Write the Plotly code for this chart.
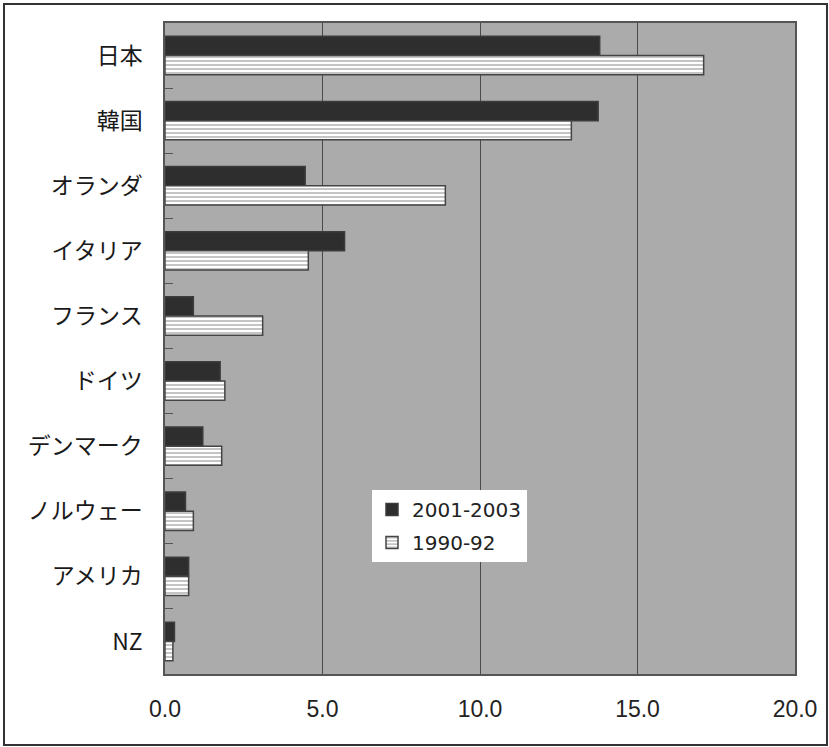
import plotly.graph_objects as go

countries = ["日本", "韓国", "オランダ", "イタリア", "フランス", "ドイツ", "デンマーク", "ノルウェー", "アメリカ", "NZ"]
v_2001_2003 = [13.8, 13.75, 4.45, 5.7, 0.9, 1.75, 1.2, 0.65, 0.75, 0.3]
v_1990_92 = [17.1, 12.9, 8.9, 4.55, 3.1, 1.9, 1.8, 0.9, 0.75, 0.25]
x_ticks = [0, 5, 10, 15, 20]
x_ticklabels = ["0.0", "5.0", "10.0", "15.0", "20.0"]

W, H = 829, 747
ML, MR, MT, MB = 165, 34, 23, 73
PW, PH = W - ML - MR, H - MT - MB

fig = go.Figure()
fig.add_bar(
    y=countries, x=v_2001_2003, orientation="h", name="2001-2003",
    legendgroup="a",
    marker=dict(color="#2e2e2e", line=dict(color="#3c3c3c", width=1.5)),
)
fig.add_bar(
    y=countries, x=v_1990_92, orientation="h", name="1990-92",
    legendgroup="b",
    marker=dict(color="white", line=dict(color="#444444", width=1.5),
                pattern=dict(shape="-", size=4, solidity=0.35,
                             fgcolor="#555555", bgcolor="white")),
)

def px_x(p):
    return (p - ML) / PW

def px_y(p):
    return (H - MB - p) / PH

fig.update_layout(
    width=W, height=H,
    margin=dict(l=ML, r=MR, t=MT, b=MB),
    paper_bgcolor="white",
    plot_bgcolor="#ababab",
    barmode="group", bargap=0.41, bargroupgap=0,
    showlegend=True,
    legend=dict(
        x=px_x(372), y=px_y(490), xanchor="left", yanchor="top",
        bgcolor="white", borderwidth=0,
        font=dict(family="DejaVu Sans, Liberation Sans, sans-serif", size=20, color="#222"),
        traceorder="grouped", tracegroupgap=4,
    ),
    xaxis=dict(
        range=[0, 20], tickvals=x_ticks, ticktext=x_ticklabels,
        showgrid=True, gridcolor="#4a4a4a", gridwidth=1,
        showline=True, linecolor="#555555", linewidth=1.5, mirror=True,
        ticks="", ticklabelstandoff=14, zeroline=False,
        tickfont=dict(family="Liberation Sans, Arial, sans-serif", size=23, color="#222"),
    ),
    yaxis=dict(
        type="category", autorange="reversed",
        showgrid=False, showline=True, linecolor="#555555", linewidth=1.5, mirror=True,
        ticks="inside", ticklen=8, tickcolor="#555555", tickwidth=1, tickson="boundaries",
        ticklabelstandoff=16,
        tickfont=dict(family="Noto Sans CJK JP, sans-serif", size=23, color="#1a1a1a"),
    ),
    shapes=[dict(
        type="rect", xref="paper", yref="paper",
        x0=px_x(4), x1=px_x(827), y0=px_y(745), y1=px_y(4),
        line=dict(color="#333333", width=2), fillcolor="rgba(0,0,0,0)", layer="below",
    )],
)

fig.write_html(
    "out.html",
    config={"displayModeBar": False},
    post_script="document.body.style.margin='0';document.body.style.overflow='hidden';",
)
